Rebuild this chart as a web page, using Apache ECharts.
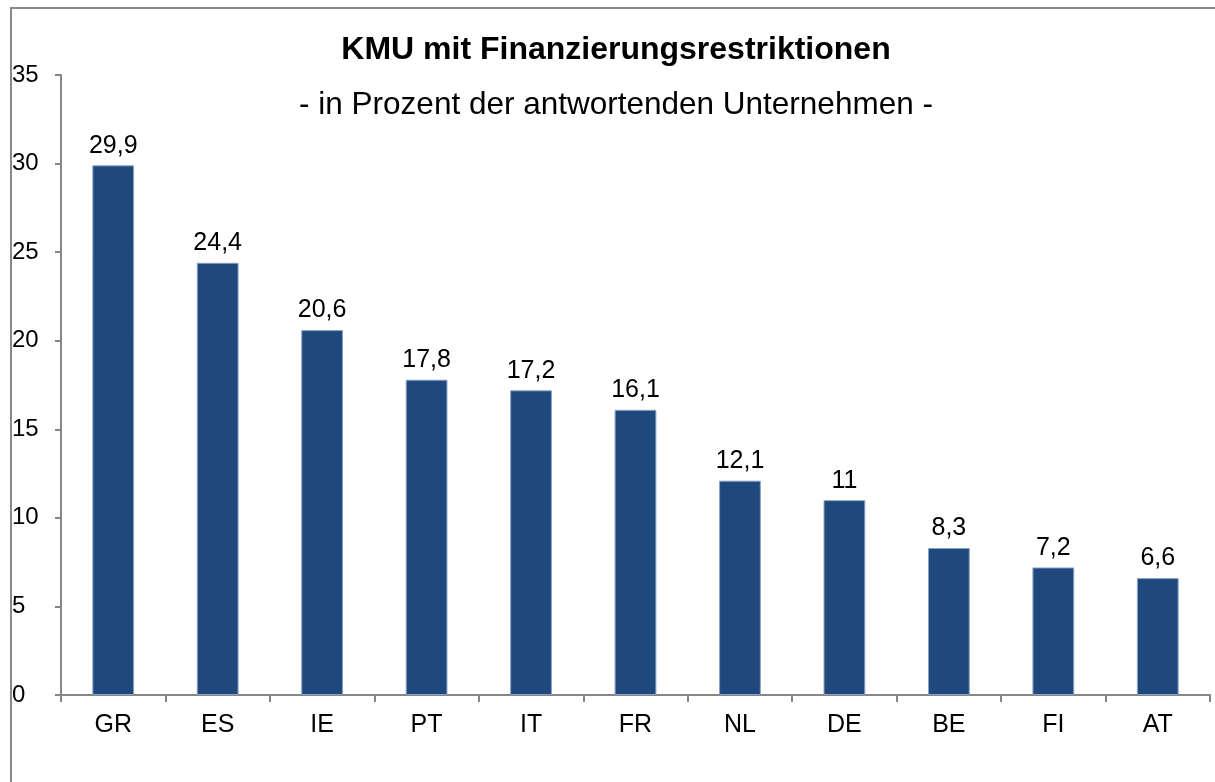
<!DOCTYPE html>
<html>
<head>
<meta charset="utf-8">
<script src="https://cdn.jsdelivr.net/npm/echarts@6/dist/echarts.min.js"></script>
<style>
  html, body { margin: 0; padding: 0; background: #fff; overflow: hidden; }
  #frame { position: absolute; left: 10px; top: 7px; width: 1220px; height: 800px;
           border-left: 2px solid #898989; border-top: 2px solid #898989; }
  #chart { position: absolute; left: 0; top: 0; width: 1215px; height: 782px; }
</style>
</head>
<body>
<div id="frame"></div>
<div id="chart"></div>
<script>
const countries = ['GR', 'ES', 'IE', 'PT', 'IT', 'FR', 'NL', 'DE', 'BE', 'FI', 'AT'];
const shares = [29.9, 24.4, 20.6, 17.8, 17.2, 16.1, 12.1, 11, 8.3, 7.2, 6.6];

const chart = echarts.init(document.getElementById('chart'));
const font = '"Liberation Sans", Arial, sans-serif';

chart.setOption({
  animation: false,
  title: [
    {
      text: 'KMU mit Finanzierungsrestriktionen',
      left: 611, top: 29, textAlign: 'center',
      textStyle: { fontFamily: font, fontSize: 32, fontWeight: 'bold', color: '#000' }
    },
    {
      text: '- in Prozent der antwortenden Unternehmen -',
      left: 611, top: 84, textAlign: 'center',
      textStyle: { fontFamily: font, fontSize: 31.5, fontWeight: 'normal', color: '#000' }
    }
  ],
  grid: { left: 61, right: 5, top: 75, bottom: 87 },
  xAxis: {
    type: 'category',
    data: countries,
    axisLine: { lineStyle: { color: '#868686', width: 2 } },
    axisTick: { show: true, length: 7, lineStyle: { color: '#868686', width: 2 } },
    axisLabel: { color: '#000', fontFamily: font, fontSize: 25, margin: 18 }
  },
  yAxis: {
    type: 'value',
    min: 0, max: 35, interval: 5,
    axisLine: { show: true, lineStyle: { color: '#868686', width: 2 } },
    axisTick: { show: true, length: 6, lineStyle: { color: '#868686', width: 2 } },
    splitLine: { show: false },
    axisLabel: { color: '#000', fontFamily: font, fontSize: 24, align: 'left', margin: 49 }
  },
  series: [{
    type: 'bar',
    data: shares,
    barWidth: '40%',
    itemStyle: { color: '#1f497d', borderColor: '#8ba3c4', borderWidth: 1 },
    label: {
      show: true, position: 'top', distance: 7,
      color: '#000', fontFamily: font, fontSize: 25,
      formatter: p => String(p.value).replace('.', ',')
    }
  }]
});
</script>
</body>
</html>
